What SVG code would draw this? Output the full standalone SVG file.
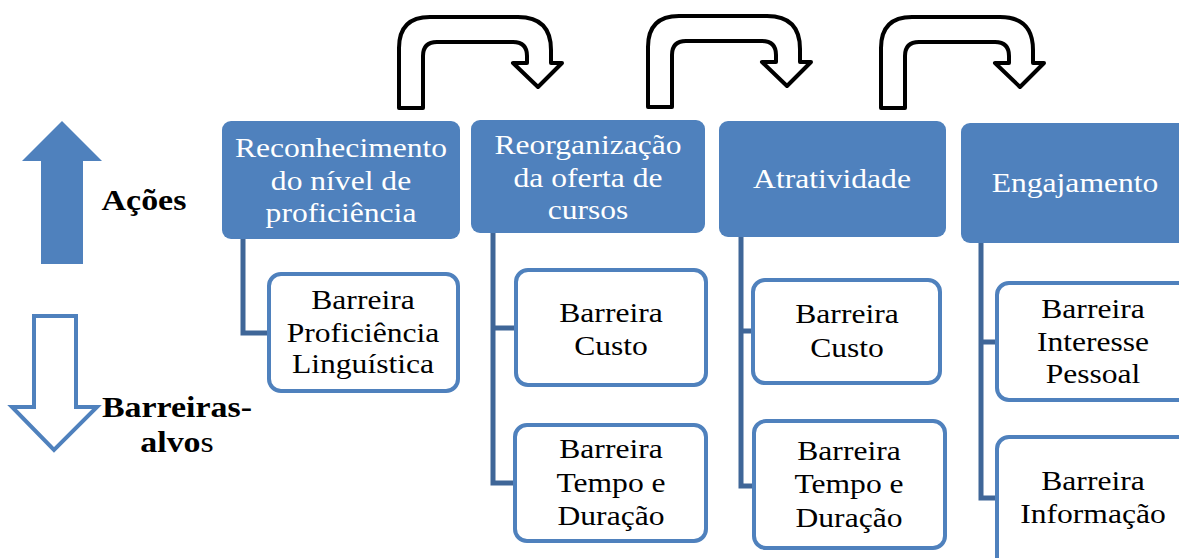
<svg xmlns="http://www.w3.org/2000/svg" xmlns:xlink="http://www.w3.org/1999/xlink" width="1179" height="558" viewBox="0 0 1179 558">
<style>
.hdr{fill:#4F81BD;}
.child{fill:#FFFFFF;stroke:#4F81BD;stroke-width:4;}
.conn{fill:none;stroke:#3F6698;stroke-width:5;}
.bend{fill:#FFFFFF;stroke:#000000;stroke-width:4;stroke-linejoin:round;}
.ht{font-family:"Liberation Serif","Times New Roman",serif;font-size:27px;fill:#FFFFFF;text-anchor:middle;}
.ct{font-family:"Liberation Serif","Times New Roman",serif;font-size:27px;fill:#000000;text-anchor:middle;}
.lt{font-family:"Liberation Serif","Times New Roman",serif;font-size:29px;font-weight:bold;fill:#000000;text-anchor:middle;}
</style>
<defs>
<path id="bentArrow" d="M399,108 V48 Q399,17 430,17 H518 Q551,17 551,50 V63 H562 L538,87 L513,63 H527 V56 Q527,42 513,42 H437 Q423,42 423,56 V108 Z"/>
</defs>
<rect width="1179" height="558" fill="#FFFFFF"/>

<g id="legend">
<path d="M62,121 L102,161 H83 V264 H41 V161 H22 Z" fill="#4F81BD"/>
<path d="M34,316 H76 V407 H97 L54,450 L12,407 H34 Z" fill="#FFFFFF" stroke="#4F81BD" stroke-width="4"/>
<text class="lt" transform="translate(144,210) scale(1.17,1)">Ações</text>
<text class="lt" transform="translate(177,417) scale(1.17,1)">Barreiras-</text>
<text class="lt" transform="translate(177,452) scale(1.17,1)">alvo<tspan font-weight="normal">s</tspan></text>
</g>

<g id="connectors">
<use xlink:href="#bentArrow" class="bend"/>
<use xlink:href="#bentArrow" class="bend" transform="translate(249,-1)"/>
<use xlink:href="#bentArrow" class="bend" transform="translate(482,0)"/>
<path class="conn" d="M243,239 V333 H269"/>
<path class="conn" d="M493,233 V483 H515 M493,328 H516"/>
<path class="conn" d="M741,237 V486 H754 M741,331 H753"/>
<path class="conn" d="M981,243 V498 H997 M981,342 H997"/>
</g>

<g id="h1">
<rect class="hdr" x="222" y="121" width="238" height="118" rx="9"/>
<text class="ht" transform="translate(341,157) scale(1.17,1)"><tspan x="0" y="0">Reconhecimento</tspan><tspan x="0" y="33">do nível de</tspan><tspan x="0" y="65">proficiência</tspan></text>
</g>
<g id="h2">
<rect class="hdr" x="471" y="120" width="234" height="113" rx="9"/>
<text class="ht" transform="translate(588,154) scale(1.17,1)"><tspan x="0" y="0">Reorganização</tspan><tspan x="0" y="33">da oferta de</tspan><tspan x="0" y="65">cursos</tspan></text>
</g>
<g id="h3">
<rect class="hdr" x="719" y="121" width="227" height="116" rx="9"/>
<text class="ht" transform="translate(832,188) scale(1.17,1)">Atratividade</text>
</g>
<g id="h4">
<rect class="hdr" x="961" y="123" width="240" height="120" rx="9"/>
<text class="ht" transform="translate(1075,192) scale(1.17,1)">Engajamento</text>
</g>

<g id="c1">
<rect class="child" x="269" y="274" width="189" height="117" rx="12"/>
<text class="ct" transform="translate(363,309) scale(1.17,1)"><tspan x="0" y="0">Barreira</tspan><tspan x="0" y="33">Proficiência</tspan><tspan x="0" y="64">Linguística</tspan></text>
</g>
<g id="c2a">
<rect class="child" x="516" y="270" width="190" height="115" rx="12"/>
<text class="ct" transform="translate(611,322) scale(1.17,1)"><tspan x="0" y="0">Barreira</tspan><tspan x="0" y="33">Custo</tspan></text>
</g>
<g id="c2b">
<rect class="child" x="515" y="425" width="191" height="116" rx="12"/>
<text class="ct" transform="translate(611,458) scale(1.17,1)"><tspan x="0" y="0">Barreira</tspan><tspan x="0" y="34">Tempo e</tspan><tspan x="0" y="67">Duração</tspan></text>
</g>
<g id="c3a">
<rect class="child" x="753" y="280" width="187" height="103" rx="12"/>
<text class="ct" transform="translate(847,323) scale(1.17,1)"><tspan x="0" y="0">Barreira</tspan><tspan x="0" y="34">Custo</tspan></text>
</g>
<g id="c3b">
<rect class="child" x="754" y="421" width="191" height="127" rx="12"/>
<text class="ct" transform="translate(849,460) scale(1.17,1)"><tspan x="0" y="0">Barreira</tspan><tspan x="0" y="33">Tempo e</tspan><tspan x="0" y="67">Duração</tspan></text>
</g>
<g id="c4a">
<rect class="child" x="997" y="283" width="200" height="117" rx="12"/>
<text class="ct" transform="translate(1093,318) scale(1.17,1)"><tspan x="0" y="0">Barreira</tspan><tspan x="0" y="33">Interesse</tspan><tspan x="0" y="65">Pessoal</tspan></text>
</g>
<g id="c4b">
<rect class="child" x="997" y="437" width="200" height="140" rx="12"/>
<text class="ct" transform="translate(1093,490) scale(1.17,1)"><tspan x="0" y="0">Barreira</tspan><tspan x="0" y="33">Informação</tspan></text>
</g>
</svg>
